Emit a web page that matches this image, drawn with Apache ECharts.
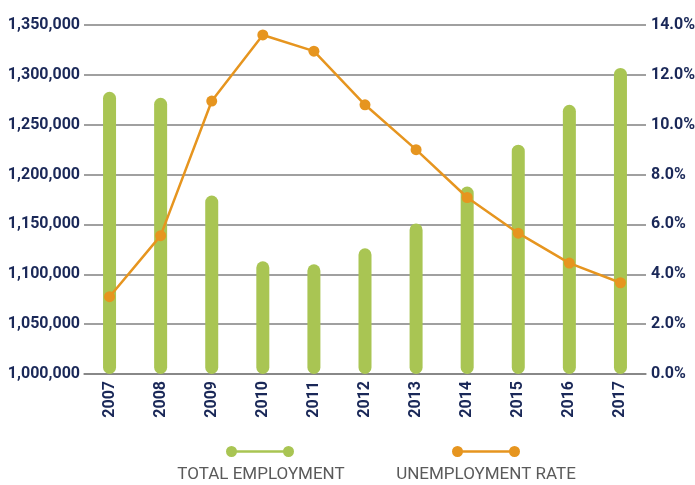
<!DOCTYPE html>
<html>
<head>
<meta charset="utf-8">
<script src="https://cdn.jsdelivr.net/npm/echarts@6/dist/echarts.min.js"></script>
<style>
  html, body { margin: 0; padding: 0; background: #fff; }
  #chart { width: 695px; height: 485px; }
</style>
</head>
<body>
<div id="chart"></div>
<script>
// data
const years = ['2007', '2008', '2009', '2010', '2011', '2012', '2013', '2014', '2015', '2016', '2017'];
const totalEmployment = [1283000, 1277000, 1179000, 1113000, 1110000, 1126000, 1151000, 1188000, 1230000, 1270000, 1307000];
const unemploymentRate = [0.031, 0.0555, 0.1095, 0.136, 0.1295, 0.108, 0.090, 0.0708, 0.0565, 0.0445, 0.0366];
const leftTicks = { min: 1000000, max: 1350000, interval: 50000 };
const rightTicks = { min: 0, max: 0.14, interval: 0.02 };
const seriesNames = ['TOTAL EMPLOYMENT', 'UNEMPLOYMENT RATE'];

const GREEN = '#A9C553';
const ORANGE = '#E6951F';
const NAVY = '#1A2858';
const FONT = "Roboto, 'Liberation Sans', sans-serif";

// icon: dot - line - dot
const legendIcon = 'path://M0,5.5A5.5,5.5,0,1,1,11,5.5A5.5,5.5,0,1,1,0,5.5Z' +
  'M5.5,4.3L62.5,4.3L62.5,6.7L5.5,6.7Z' +
  'M57,5.5A5.5,5.5,0,1,1,68,5.5A5.5,5.5,0,1,1,57,5.5Z';

const chart = echarts.init(document.getElementById('chart'), null, { renderer: 'canvas' });

const axisText = { color: NAVY, fontFamily: FONT, fontWeight: 'bold', fontSize: 16 };

const option = {
  animation: false,
  grid: { left: 84, right: 49, top: 25, bottom: 111, outerBoundsMode: 'none', containLabel: false },
  legend: [
    {
      data: [seriesNames[0]],
      left: 226, top: 446, padding: 0,
      icon: legendIcon, itemWidth: 68, itemHeight: 11,
      formatter: () => '',
      selectedMode: false
    },
    {
      data: [seriesNames[1]],
      left: 452, top: 446, padding: 0,
      icon: legendIcon, itemWidth: 68, itemHeight: 11,
      formatter: () => '',
      selectedMode: false
    }
  ],
  // legend captions sit under the icons
  graphic: [
    {
      type: 'text', x: 261, y: 475,
      style: { text: seriesNames[0], fill: '#5A5A5A', font: '17px ' + FONT, align: 'center', verticalAlign: 'middle' }
    },
    {
      type: 'text', x: 486, y: 475,
      style: { text: seriesNames[1], fill: '#5A5A5A', font: '17px ' + FONT, align: 'center', verticalAlign: 'middle' }
    }
  ],
  xAxis: {
    type: 'category',
    data: years,
    axisLine: { show: true, lineStyle: { color: '#808080', width: 1.5 } },
    axisTick: { show: false },
    axisLabel: Object.assign({ rotate: 90, margin: 7 }, axisText)
  },
  yAxis: [
    {
      type: 'value',
      min: leftTicks.min, max: leftTicks.max, interval: leftTicks.interval,
      axisLine: { show: false }, axisTick: { show: false },
      splitLine: { lineStyle: { color: '#808080', width: 1.5 } },
      axisLabel: Object.assign({ margin: 4, formatter: v => v.toLocaleString('en-US') }, axisText)
    },
    {
      type: 'value',
      min: rightTicks.min, max: rightTicks.max, interval: rightTicks.interval,
      axisLine: { show: false }, axisTick: { show: false },
      splitLine: { show: false },
      axisLabel: Object.assign({ margin: 5, formatter: v => (v * 100).toFixed(1) + '%' }, axisText)
    }
  ],
  series: [
    {
      name: seriesNames[0],
      type: 'bar',
      data: totalEmployment,
      barWidth: 13,
      itemStyle: { color: GREEN, borderRadius: 6.5 }
    },
    {
      name: seriesNames[1],
      type: 'line',
      yAxisIndex: 1,
      data: unemploymentRate,
      symbol: 'circle',
      symbolSize: 11,
      lineStyle: { color: ORANGE, width: 2.5 },
      itemStyle: { color: ORANGE }
    }
  ]
};

chart.setOption(option);
window.addEventListener('resize', () => chart.resize());
</script>
</body>
</html>
